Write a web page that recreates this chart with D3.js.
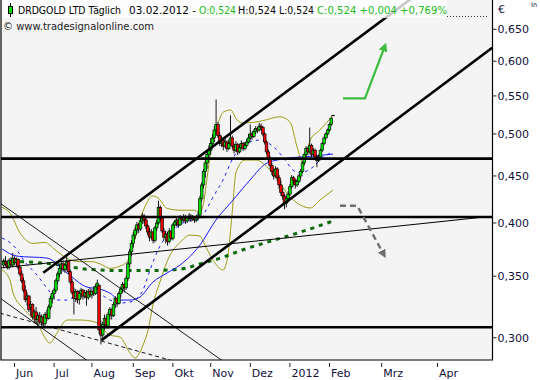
<!DOCTYPE html>
<html><head><meta charset="utf-8">
<script src="https://cdn.jsdelivr.net/npm/d3@7"></script>
<style>
html,body{margin:0;padding:0;background:#fff;}
svg{display:block;font-family:"DejaVu Sans",Verdana,sans-serif;}
</style></head><body>
<svg id="chart" width="540" height="380"></svg>
<script>
// ---------- DATA ----------
const firstTradingDay = "2011-05-24";
const opens = [.360,.363,.361,.358,.364,.360,
.366,.362,.365,.358,.352,.346,.338,.331,.333,.324,.326,.316,.320,.314,.317,.312,.316,.311,.318,.315,
.324,.331,.335,.338,.346,.352,.357,.361,.356,.360,.363,.354,.345,.336,.331,.337,.330,.335,.338,.333,
.336,.332,.337,.334,.337,.335,.340,.342,.306,.302,.310,.315,.309,.318,.322,.317,.326,.331,.327,.335,
.339,.343,.340,.348,.361,.372,.380,.388,.393,.398,.394,.402,.407,.403,.397,.391,.386,.391,.383,.395,
.400,.416,.405,.392,.386,.389,.382,.392,.385,.398,.401,.403,.398,.405,.403,.406,.402,.405,.407,.404,
.406,.403,.405,.408,.425,.440,.455,.465,.475,.480,.488,.495,.505,.512,.498,.488,.492,.485,.490,.482,
.488,.495,.485,.480,.487,.478,.483,.488,.482,.486,.490,.495,.500,.497,.503,.507,.505,.510,.508,.500,
.490,.478,.470,.462,.455,.450,.458,.448,.440,.432,.428,.420,.425,.430,.438,.448,.445,.440,.444,.450,
.455,.465,.475,.482,.478,.486,.475,.480,.472,.468,.472,.480,.488,.495,.500,.505,.512,.524];
const highs = [.366,.368,.364,.366,.367,.371,
.368,.367,.366,.360,.355,.349,.342,.336,.334,.329,.327,.322,.324,.319,.320,.318,.317,.320,.322,.326,
.333,.337,.340,.348,.354,.360,.363,.364,.362,.369,.364,.356,.348,.340,.339,.338,.337,.340,.339,.338,
.338,.339,.340,.339,.341,.343,.347,.343,.313,.312,.318,.317,.320,.324,.323,.328,.333,.332,.337,.341,
.345,.344,.350,.363,.375,.383,.391,.396,.401,.400,.405,.410,.409,.405,.399,.395,.394,.392,.397,.403,
.423,.418,.407,.395,.392,.391,.395,.393,.400,.403,.405,.404,.408,.407,.409,.408,.407,.410,.409,.408,
.407,.408,.411,.428,.443,.458,.468,.480,.486,.495,.500,.510,.545,.515,.502,.497,.494,.495,.492,.493,
.524,.498,.488,.491,.489,.487,.492,.490,.490,.494,.500,.512,.503,.506,.510,.509,.514,.513,.510,.502,
.492,.481,.473,.465,.458,.461,.460,.451,.445,.436,.430,.428,.433,.441,.451,.450,.447,.447,.452,.458,
.467,.477,.485,.484,.508,.488,.483,.482,.474,.475,.482,.490,.497,.502,.507,.514,.522,.524];
const lows = [.357,.359,.356,.356,.359,.358,
.360,.359,.356,.350,.344,.336,.328,.325,.320,.317,.314,.312,.311,.309,.310,.309,.308,.309,.313,.314,
.322,.327,.330,.336,.343,.349,.352,.354,.353,.355,.352,.343,.334,.318,.328,.327,.326,.331,.330,.331,
.325,.330,.332,.331,.333,.334,.338,.303,.295,.300,.306,.307,.307,.314,.314,.316,.323,.324,.326,.332,
.336,.336,.338,.346,.358,.368,.376,.384,.389,.390,.392,.399,.399,.394,.388,.382,.384,.380,.381,.392,
.398,.402,.390,.383,.380,.378,.380,.383,.383,.395,.397,.395,.397,.400,.401,.399,.400,.403,.401,.402,
.400,.401,.403,.406,.422,.436,.448,.458,.468,.475,.482,.490,.500,.495,.485,.484,.480,.483,.478,.480,
.486,.482,.476,.478,.474,.476,.481,.479,.480,.484,.488,.492,.493,.495,.500,.501,.503,.504,.497,.487,
.475,.466,.458,.451,.446,.448,.444,.436,.428,.424,.414,.416,.421,.428,.436,.440,.436,.438,.442,.447,
.453,.462,.472,.474,.476,.472,.473,.469,.460,.466,.470,.478,.486,.493,.498,.503,.510,.524];
const closes = [.363,.361,.358,.364,.360,.366,
.362,.365,.358,.352,.346,.338,.330,.333,.322,.326,.316,.320,.314,.317,.312,.316,.311,.318,.315,.324,
.331,.335,.338,.346,.352,.357,.361,.356,.360,.363,.354,.345,.336,.331,.337,.330,.335,.338,.333,.336,
.332,.337,.334,.337,.335,.341,.344,.306,.302,.310,.315,.309,.318,.322,.317,.326,.331,.327,.335,.339,
.343,.340,.348,.361,.372,.380,.388,.393,.398,.394,.402,.407,.403,.397,.391,.386,.391,.383,.395,.400,
.416,.405,.392,.386,.389,.382,.392,.385,.398,.401,.403,.398,.405,.403,.406,.402,.405,.407,.404,.406,
.403,.405,.408,.425,.440,.455,.465,.475,.480,.488,.495,.505,.512,.498,.488,.492,.485,.490,.482,.488,
.495,.485,.480,.487,.478,.483,.488,.482,.486,.490,.495,.500,.497,.503,.507,.505,.510,.508,.500,.490,
.478,.470,.462,.455,.450,.458,.448,.440,.432,.428,.420,.425,.430,.438,.448,.445,.440,.444,.450,.455,
.465,.475,.482,.478,.486,.475,.480,.472,.468,.472,.480,.488,.495,.500,.505,.512,.520,.524];

// indicator lines: [bar position, price]
const upperBand = [[-0.9,.416],[3.5,.410],[9.1,.390],[16.3,.380],[22.9,.381],[28.5,.374],[35.2,.366],[42.4,.363],[49.1,.363],[53.5,.361],[59.1,.357],[64.6,.359],[68.5,.363],[71.8,.378],[75.7,.403],[79.6,.421],[82.4,.428],[85.7,.426],[90.7,.415],[97.9,.413],[105.2,.413],[109,.411],[111,.420],[113,.448],[115,.478],[117,.497],[119,.513],[122,.528],[126,.531],[129.6,.518],[132.9,.514],[139.6,.515],[144.1,.517],[153.5,.522],[159.1,.515],[163,.484],[166.3,.465],[170.2,.492],[175.7,.505],[183,.524]];
const lowerBand = [[-0.9,.3555],[3.5,.3467],[5.2,.3356],[11.8,.3215],[18.5,.3113],[25.7,.296],[29.6,.3035],[35.2,.3136],[42.4,.3136],[50.7,.3121],[59.1,.302],[64.6,.3005],[70.2,.2887],[72.9,.2851],[77.4,.2945],[80.2,.3058],[82.9,.3256],[86.8,.345],[92.4,.3691],[97.9,.3808],[103.5,.388],[109.1,.387],[111.8,.3784],[116.3,.3645],[121.8,.3555],[124.6,.3691],[126.8,.408],[129.1,.4545],[134.1,.4683],[140.2,.4683],[147.9,.4568],[153.5,.4421],[159.1,.4268],[163,.4205],[170.2,.4153],[175.7,.4236],[183,.4344]];
const midAverage = [[-0.9,.3851],[5.2,.3784],[11.8,.3627],[18.5,.351],[25.7,.3364],[29.6,.3297],[35.2,.3297],[42.4,.3356],[50.7,.3364],[59.1,.3297],[64.6,.3273],[70.2,.3281],[72.9,.3297],[77.4,.3381],[81.3,.3555],[85.7,.3737],[89.6,.3851],[95.2,.3949],[100.7,.4009],[106.3,.4029],[109.1,.4029],[111.8,.4111],[116.3,.4268],[121.8,.4454],[127.4,.4707],[135.2,.4887],[142.4,.4924],[147.9,.4875],[151.8,.4802],[156.3,.4683],[160.7,.4568],[164.6,.4534],[171.8,.4602],[177.4,.4719],[183,.4778]];
const slowAverage = [[-0.9,.3747],[7.4,.3681],[24,.3663],[35.2,.3528],[46.3,.3406],[53.5,.3389],[59,.3355],[64.6,.3297],[70.2,.3297],[75.7,.3322],[82.9,.3449],[90.7,.3528],[97.9,.3599],[109,.3784],[117.9,.4029],[127.4,.4236],[136.8,.4454],[146.3,.4648],[159,.4707],[171.8,.473],[183,.4754]];
const longAverage = [[-0.9,.363],[9,.363],[26,.361],[48,.356],[65,.355],[81,.355],[92,.3555],[101,.357],[109,.361],[120,.366],[133,.374],[148,.382],[165,.391],[183,.402]];

// drawn tools: [bar position, price]
const levels = [0.470, 0.406, 0.308];
const channelUpper = [[22.0,.3531],[222.9,.6936]];
const channelLower = [[54.4,.2982],[271.4,.6206]];
const risingLine = [[-2.1,.3573],[263.5,.4053]];
const fallingLineA = [[-2.1,.4205],[125,.2800]];
const fallingLineB = [[-2.1,.3314],[50,.2800]];
const fallingDashed = [[-2.1,.3191],[100,.2810]];
const greenArrow = [[188.5,.5467],[200.7,.5467],[211.8,.6233]];
const grayArrow = [[186.8,.4177],[196.4,.4177],[211.3,.3691]];

const priceTicks = [0.30,0.35,0.40,0.45,0.50,0.55,0.60,0.65];
const monthLabels = ["Jun","Jul","Aug","Sep","Okt","Nov","Dez","2012","Feb","Mrz","Apr"];
const monthDates = ["2011-06-01","2011-07-01","2011-08-01","2011-09-01","2011-10-01","2011-11-01","2011-12-01","2012-01-01","2012-02-01","2012-03-01","2012-04-01"];

// ---------- SETUP ----------
const svg = d3.select("#chart");
const W = 540, H = 380;
const plot = {l:1, r:492.5, t:0, b:360};

const x = d3.scaleLinear().domain([-2, 271]).range([0.1, 491.5]);
const y = d3.scaleLog().domain([0.2837, 0.6995]).range([360, 0]);

// trading dates (weekdays)
const dates = [];
{ let d = new Date(firstTradingDay + "T00:00:00Z");
  while (dates.length < closes.length) {
    const wd = d.getUTCDay();
    if (wd !== 0 && wd !== 6) dates.push(new Date(d));
    d = new Date(d.getTime() + 86400000);
  } }
function posOfDate(s) {
  const d = new Date(s + "T00:00:00Z");
  const last = dates[dates.length - 1];
  if (d <= last) { return dates.findIndex(t => t >= d); }
  return (dates.length - 1) + Math.round((d - last) / 86400000);
}

svg.append("rect").attr("width", W).attr("height", H).attr("fill", "#fff");
svg.append("rect").attr("x", plot.l).attr("y", plot.t).attr("width", plot.r - plot.l).attr("height", plot.b - plot.t).attr("fill", "#f4f4f4");

svg.append("clipPath").attr("id", "clip").append("rect")
  .attr("x", plot.l).attr("y", plot.t).attr("width", plot.r - plot.l).attr("height", plot.b - plot.t);
const g = svg.append("g").attr("clip-path", "url(#clip)");

const defs = svg.append("defs");
defs.append("marker").attr("id","headG").attr("viewBox","0 0 10 10").attr("refX",6).attr("refY",5)
  .attr("markerWidth",4).attr("markerHeight",4).attr("orient","auto")
  .append("path").attr("d","M0,0L10,5L0,10z").attr("fill","#3cbc3c");
defs.append("marker").attr("id","headGr").attr("viewBox","0 0 10 10").attr("refX",6).attr("refY",5)
  .attr("markerWidth",3.5).attr("markerHeight",3.5).attr("orient","auto")
  .append("path").attr("d","M0,0L10,5L0,10z").attr("fill","#6e6e6e");

const curveLine = d3.line().x(d => x(d[0])).y(d => y(d[1])).curve(d3.curveMonotoneX);
const straight = d3.line().x(d => x(d[0])).y(d => y(d[1]));

// ---------- INDICATORS ----------
g.append("path").attr("d", curveLine(upperBand)).attr("fill","none").attr("stroke","#9c9c14").attr("stroke-width",1);
g.append("path").attr("d", curveLine(lowerBand)).attr("fill","none").attr("stroke","#9c9c14").attr("stroke-width",1);
g.append("path").attr("d", curveLine(longAverage)).attr("fill","none").attr("stroke","#0b6b0b").attr("stroke-width",3).attr("stroke-dasharray","4,5");
g.append("path").attr("d", curveLine(slowAverage)).attr("fill","none").attr("stroke","#1a1aff").attr("stroke-width",1);
g.append("path").attr("d", curveLine(midAverage)).attr("fill","none").attr("stroke","#1a1aff").attr("stroke-width",1).attr("stroke-dasharray","3,4");

// ---------- CANDLES ----------
const bars = closes.map((c, i) => ({i, o: opens[i], h: highs[i], l: lows[i], c}));
const cg = g.append("g");
cg.selectAll("line.w").data(bars).join("line")
  .attr("x1", d => x(d.i)).attr("x2", d => x(d.i))
  .attr("y1", d => y(d.h)).attr("y2", d => y(d.l))
  .attr("stroke", "#000").attr("stroke-width", 0.9);
cg.selectAll("rect.b").data(bars).join("rect")
  .attr("x", d => x(d.i) - 1.35).attr("width", 2.7)
  .attr("y", d => y(Math.max(d.o, d.c)))
  .attr("height", d => Math.max(0.6, Math.abs(y(d.o) - y(d.c))))
  .attr("fill", d => d.c >= d.o ? "#00e000" : "#f00000")
  .attr("stroke", "#000").attr("stroke-width", 0.65);

// ---------- DRAWING TOOLS ----------
levels.forEach(v => {
  g.append("line").attr("x1", plot.l).attr("x2", plot.r).attr("y1", y(v)).attr("y2", y(v))
    .attr("stroke", "#000").attr("stroke-width", 2.6);
});
function extend(pts, toPos) {
  const [a, b] = pts;
  const t = (toPos - a[0]) / (b[0] - a[0]);
  const v = Math.exp(Math.log(a[1]) + t * (Math.log(b[1]) - Math.log(a[1])));
  return [a, [toPos, v]];
}
g.append("path").attr("d", straight(extend(channelUpper, 240))).attr("stroke","#000").attr("stroke-width",2.6).attr("fill","none");
g.append("path").attr("d", straight(channelLower)).attr("stroke","#000").attr("stroke-width",2.6).attr("fill","none");
g.append("path").attr("d", straight(risingLine)).attr("stroke","#000").attr("stroke-width",1).attr("fill","none");
g.append("path").attr("d", straight(fallingLineA)).attr("stroke","#000").attr("stroke-width",0.9).attr("fill","none");
g.append("path").attr("d", straight(fallingLineB)).attr("stroke","#000").attr("stroke-width",0.9).attr("fill","none");
g.append("path").attr("d", straight(fallingDashed)).attr("stroke","#000").attr("stroke-width",0.9).attr("stroke-dasharray","4,3").attr("fill","none");
g.append("path").attr("d", straight(greenArrow)).attr("stroke","#3cbc3c").attr("stroke-width",2.2).attr("fill","none").attr("marker-end","url(#headG)");
g.append("path").attr("d", straight(grayArrow)).attr("stroke","#6e6e6e").attr("stroke-width",2.4).attr("stroke-dasharray","6,4").attr("fill","none").attr("marker-end","url(#headGr)");

// ---------- HEADER ----------
svg.append("rect").attr("x", 2).attr("y", 0).attr("width", 445).attr("height", 18).attr("fill", "#fff").attr("opacity", 0.78);
svg.append("line").attr("x1", 447).attr("x2", 489).attr("y1", 16.5).attr("y2", 16.5).attr("stroke","#333").attr("stroke-width",1).attr("stroke-dasharray","1,2");
// icon
svg.append("line").attr("x1", 10.5).attr("x2", 10.5).attr("y1", 3).attr("y2", 17).attr("stroke", "#000");
svg.append("rect").attr("x", 8.5).attr("y", 6.5).attr("width", 4).attr("height", 7).attr("fill", "#00e000").attr("stroke", "#000");
const headParts = [
  {t: "DRDGOLD LTD Täglich", x: 18, w: 103, c: "#000"},
  {t: "03.02.2012 -", x: 129, w: 67, c: "#000"},
  {t: "O:0,524", x: 199, w: 37, c: "#22bb22"},
  {t: "H:0,524", x: 238, w: 38, c: "#000"},
  {t: "L:0,524", x: 279, w: 35, c: "#000"},
  {t: "C:0,524 +0,004 +0,769%", x: 317, w: 130, c: "#22bb22"}
];
headParts.forEach(p => {
  svg.append("text").attr("x", p.x).attr("y", 14).attr("font-size", 10.5).attr("fill", p.c)
    .attr("textLength", p.w).attr("lengthAdjust", "spacingAndGlyphs").text(p.t);
});
svg.append("text").attr("x", 3).attr("y", 30).attr("font-size", 10.5).attr("fill", "#222")
  .attr("textLength", 151).attr("lengthAdjust", "spacingAndGlyphs").text("© www.tradesignalonline.com");

// ---------- FRAME & AXES ----------
svg.append("path").attr("d", `M${plot.l},${plot.t}V${plot.b}H${plot.r}V${plot.t}`)
  .attr("fill", "none").attr("stroke", "#000").attr("stroke-width", 1.2);

const ax = svg.append("g").attr("fill", "#10103c").attr("font-size", 11);
priceTicks.forEach(v => {
  ax.append("line").attr("x1", plot.r).attr("x2", plot.r + 4).attr("y1", y(v)).attr("y2", y(v)).attr("stroke", "#222");
  ax.append("text").attr("x", plot.r + 5).attr("y", y(v)).attr("dy", "0.35em").text(d3.format(".3f")(v).replace(".", ","));
});
ax.append("text").attr("x", 498).attr("y", 13).text("€");
ax.append("text").attr("x", 531).attr("y", 7).attr("font-size", 6.5).text("In");

monthDates.forEach((s, k) => {
  const px = x(posOfDate(s));
  ax.append("line").attr("x1", px).attr("x2", px).attr("y1", 363).attr("y2", 367).attr("stroke", "#222");
  ax.append("text").attr("x", px + 1.5).attr("y", 377).text(monthLabels[k]);
});
</script>
</body></html>
